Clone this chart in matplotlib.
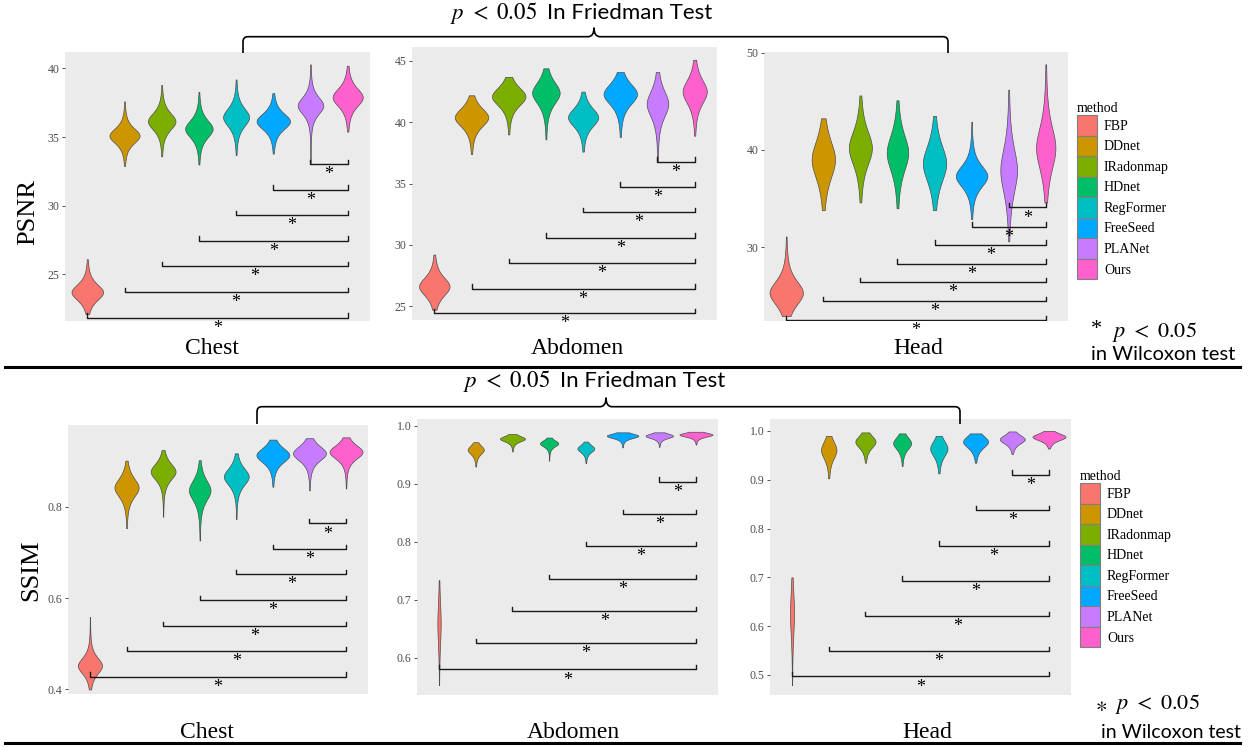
import numpy as np
import matplotlib.pyplot as plt
from matplotlib.path import Path
from matplotlib.patches import PathPatch, Patch

W, H = 1252, 747

METHODS = ["FBP", "DDnet", "IRadonmap", "HDnet", "RegFormer", "FreeSeed", "PLANet", "Ours"]
COLORS = ["#F8766D", "#CD9600", "#7CAE00", "#00BE67", "#00BFC4", "#00A9FF", "#C77CFF", "#FF61CC"]

# violin summaries: tail ends, widest point, spread, max width
PSNR_CHEST_LO = [22.1, 32.9, 33.6, 33.0, 33.7, 33.8, 33.1, 35.4]
PSNR_CHEST_MODE = [23.7, 35.1, 36.15, 35.6, 36.45, 36.15, 37.3, 37.9]
PSNR_CHEST_HI = [26.1, 37.6, 38.8, 38.3, 39.2, 38.2, 40.3, 40.2]
PSNR_CHEST_SD = [0.66, 0.62, 0.7, 0.72, 0.75, 0.66, 0.7, 0.75]
PSNR_CHEST_W = [0.85, 0.81, 0.74, 0.74, 0.70, 0.90, 0.69, 0.81]
PSNR_CHEST_BR = [21.85, 23.7, 25.6, 27.45, 29.3, 31.16, 33.04]

PSNR_ABD_LO = [24.7, 37.4, 39.0, 38.6, 37.6, 38.8, 36.8, 38.9]
PSNR_ABD_MODE = [26.6, 40.4, 42.1, 42.4, 40.4, 42.3, 41.5, 42.5]
PSNR_ABD_HI = [29.2, 42.2, 43.7, 44.4, 42.5, 44.1, 44.1, 45.1]
PSNR_ABD_SD = [0.85, 0.85, 0.85, 1.0, 0.85, 0.95, 1.2, 1.1]
PSNR_ABD_W = [0.82, 0.9, 0.9, 0.74, 0.81, 0.9, 0.58, 0.65]
PSNR_ABD_BR = [24.4, 26.43, 28.51, 30.57, 32.65, 34.73, 36.78]

PSNR_HEAD_LO = [22.9, 33.8, 34.6, 34.0, 33.8, 32.9, 30.6, 34.6]
PSNR_HEAD_MODE = [25.3, 39.0, 40.2, 39.7, 38.6, 37.3, 37.9, 40.2]
PSNR_HEAD_HI = [31.1, 43.25, 45.6, 45.1, 43.5, 42.9, 46.2, 48.8]
PSNR_HEAD_SD = [1.4, 2.2, 2.0, 2.1, 2.1, 1.25, 2.6, 2.5]
PSNR_HEAD_W = [0.9, 0.63, 0.62, 0.58, 0.63, 0.85, 0.45, 0.52]
PSNR_HEAD_BR = [22.47, 24.42, 26.37, 28.29, 30.24, 32.12, 34.08]

SSIM_CHEST_LO = [0.40, 0.753, 0.778, 0.726, 0.773, 0.844, 0.836, 0.840]
SSIM_CHEST_MODE = [0.452, 0.842, 0.877, 0.836, 0.866, 0.913, 0.917, 0.920]
SSIM_CHEST_HI = [0.559, 0.901, 0.924, 0.902, 0.917, 0.947, 0.950, 0.952]
SSIM_CHEST_SD = [0.02, 0.023, 0.02, 0.025, 0.021, 0.018, 0.018, 0.017]
SSIM_CHEST_W = [0.66, 0.66, 0.68, 0.59, 0.68, 0.9, 0.9, 0.9]
SSIM_CHEST_BR = [0.428, 0.484, 0.539, 0.596, 0.652, 0.707, 0.7635]

SSIM_ABD_LO = [0.553, 0.930, 0.956, 0.940, 0.936, 0.963, 0.964, 0.968]
SSIM_ABD_MODE = [0.659, 0.959, 0.978, 0.970, 0.961, 0.983, 0.983, 0.985]
SSIM_ABD_HI = [0.734, 0.972, 0.986, 0.980, 0.973, 0.989, 0.989, 0.990]
SSIM_ABD_SD = [0.04, 0.0085, 0.0053, 0.006, 0.007, 0.0045, 0.0045, 0.004]
SSIM_ABD_W = [0.09, 0.44, 0.68, 0.5, 0.46, 0.86, 0.75, 0.9]
SSIM_ABD_BR = [0.580, 0.625, 0.681, 0.736, 0.793, 0.848, 0.904]

SSIM_HEAD_LO = [0.479, 0.903, 0.935, 0.928, 0.913, 0.935, 0.953, 0.964]
SSIM_HEAD_MODE = [0.626, 0.961, 0.978, 0.975, 0.964, 0.978, 0.983, 0.988]
SSIM_HEAD_HI = [0.700, 0.990, 0.997, 0.995, 0.990, 0.995, 0.999, 1.000]
SSIM_HEAD_SD = [0.05, 0.02, 0.014, 0.014, 0.018, 0.014, 0.01, 0.008]
SSIM_HEAD_W = [0.11, 0.42, 0.55, 0.49, 0.47, 0.68, 0.68, 0.9]
SSIM_HEAD_BR = [0.497, 0.549, 0.621, 0.693, 0.765, 0.838, 0.91]

plt.rcParams["font.family"] = "Liberation Serif"
plt.rcParams["mathtext.fontset"] = "stix"


def px_axes(fig, x0, y0, x1, y1):
    return fig.add_axes([x0 / W, 1 - y1 / H, (x1 - x0) / W, (y1 - y0) / H])


def violin_panel(ax, lo, mode, hi, sd, width, brackets, ylim, ticks, fmt):
    ax.set_facecolor("#EBEBEB")
    for sp in ax.spines.values():
        sp.set_visible(False)
    for i in range(len(METHODS)):
        y = np.linspace(lo[i], hi[i], 300)
        dens = (1 + ((y - mode[i]) / sd[i]) ** 2 / 3) ** -2
        stats = [{"coords": y, "vals": dens, "mean": mode[i], "median": mode[i],
                  "min": lo[i], "max": hi[i]}]
        parts = ax.violin(stats, positions=[i + 1], widths=[width[i]],
                          showmeans=False, showextrema=False, showmedians=False)
        for b in parts["bodies"]:
            b.set_facecolor(COLORS[i])
            b.set_edgecolor("#4D4D4D")
            b.set_linewidth(0.5)
            b.set_alpha(1)
    tip = 0.016 * (ylim[1] - ylim[0])
    n = len(METHODS)
    for i, yb in enumerate(brackets):
        x0 = i + 1
        ax.plot([x0, x0, n, n], [yb + tip, yb, yb, yb + tip], color="#1a1a1a", lw=1.0)
        ax.annotate("*", xy=((x0 + n) / 2, yb), xytext=(0, -1.5), textcoords="offset points",
                    ha="center", va="top", fontsize=13)
    ax.set_xlim(0.4, 8.6)
    ax.set_ylim(*ylim)
    ax.set_xticks([])
    ax.set_yticks(ticks)
    ax.set_yticklabels([fmt.format(t) for t in ticks])
    ax.tick_params(axis="y", length=2.5, width=0.6, color="#333333", labelsize=8.5,
                   labelcolor="#4D4D4D", pad=1.5)


def brace(ax, xl, xr, xc, y_line, y_end, r=5, cusp=9, half=6):
    verts = [(xl, y_end), (xl, y_line + r), (xl, y_line), (xl + r, y_line),
             (xc - half, y_line), (xc, y_line), (xc, y_line - cusp),
             (xc, y_line), (xc + half, y_line),
             (xr - r, y_line), (xr, y_line), (xr, y_line + r), (xr, y_end)]
    codes = [Path.MOVETO, Path.LINETO, Path.CURVE3, Path.CURVE3,
             Path.LINETO, Path.CURVE3, Path.CURVE3,
             Path.CURVE3, Path.CURVE3,
             Path.LINETO, Path.CURVE3, Path.CURVE3, Path.LINETO]
    ax.add_patch(PathPatch(Path(verts, codes), fill=False, lw=1.2, edgecolor="black"))


fig = plt.figure(figsize=(W / 100, H / 100), dpi=100)

panels = [
    ((65, 52, 370, 321), PSNR_CHEST_LO, PSNR_CHEST_MODE, PSNR_CHEST_HI, PSNR_CHEST_SD, PSNR_CHEST_W,
     PSNR_CHEST_BR, (21.6, 41.2), [25, 30, 35, 40], "{:.0f}"),
    ((412, 47, 717, 320), PSNR_ABD_LO, PSNR_ABD_MODE, PSNR_ABD_HI, PSNR_ABD_SD, PSNR_ABD_W,
     PSNR_ABD_BR, (23.86, 46.14), [25, 30, 35, 40, 45], "{:.0f}"),
    ((764, 52, 1068, 321), PSNR_HEAD_LO, PSNR_HEAD_MODE, PSNR_HEAD_HI, PSNR_HEAD_SD, PSNR_HEAD_W,
     PSNR_HEAD_BR, (22.4, 50.07), [30, 40, 50], "{:.0f}"),
    ((68, 425, 368, 694), SSIM_CHEST_LO, SSIM_CHEST_MODE, SSIM_CHEST_HI, SSIM_CHEST_SD, SSIM_CHEST_W,
     SSIM_CHEST_BR, (0.39, 0.979), [0.4, 0.6, 0.8], "{:.1f}"),
    ((417, 419, 718, 695), SSIM_ABD_LO, SSIM_ABD_MODE, SSIM_ABD_HI, SSIM_ABD_SD, SSIM_ABD_W,
     SSIM_ABD_BR, (0.536, 1.012), [0.6, 0.7, 0.8, 0.9, 1.0], "{:.1f}"),
    ((770, 419, 1071, 695), SSIM_HEAD_LO, SSIM_HEAD_MODE, SSIM_HEAD_HI, SSIM_HEAD_SD, SSIM_HEAD_W,
     SSIM_HEAD_BR, (0.459, 1.0245), [0.5, 0.6, 0.7, 0.8, 0.9, 1.0], "{:.1f}"),
]

for box, lo, mode, hi, sd, w, br, ylim, ticks, fmt in panels:
    ax = px_axes(fig, *box)
    violin_panel(ax, lo, mode, hi, sd, w, br, ylim, ticks, fmt)

# overlay in pixel coordinates for titles, braces and notes
ov = fig.add_axes([0, 0, 1, 1])
ov.set_xlim(0, W)
ov.set_ylim(H, 0)
ov.axis("off")

ov.text(28, 212, "PSNR", rotation=90, ha="center", va="center", fontsize=19)
ov.text(31, 570, "SSIM", rotation=90, ha="center", va="center", fontsize=19)

for x, y, s in [(212, 349, "Chest"), (577, 349, "Abdomen"), (918, 349, "Head"),
                (207, 732, "Chest"), (573, 732, "Abdomen"), (927, 733, "Head")]:
    ov.text(x, y, s, ha="center", va="center", fontsize=17)

ov.plot([5, 1240], [367, 367], color="black", lw=2.2)
ov.plot([5, 1240], [743, 743], color="black", lw=2.2)

brace(ov, 243, 948, 594, 36.7, 53)
brace(ov, 257, 960, 606, 406.7, 424)

for y, xr in [(13, 537), (381, 550)]:
    ov.text(xr, y, r"$p\ <\ 0.05$", ha="right", va="center", fontsize=16.5)
    ov.text(xr + 10, y, "In Friedman Test", ha="left", va="center", fontsize=16, family="Lato")

ov.text(1096, 330, "*", ha="center", va="center", fontsize=16)
ov.text(1112, 332, r"$p\ <\ 0.05$", ha="left", va="center", fontsize=16)
ov.text(1091, 355, "in Wilcoxon test", ha="left", va="center", fontsize=14.5, family="Lato")
ov.text(1101, 706, r"$\ast$", ha="center", va="center", fontsize=16)
ov.text(1115, 704, r"$p\ <\ 0.05$", ha="left", va="center", fontsize=16)
ov.text(1101, 732, "in Wilcoxon test", ha="left", va="center", fontsize=14, family="Lato")

handles = [Patch(facecolor=c, edgecolor="#7F7F7F", linewidth=0.8, label=m)
           for m, c in zip(METHODS, COLORS)]
for x, y in [(1077, 102), (1080, 470)]:
    fig.legend(handles=handles, title="method", loc="upper left",
               bbox_to_anchor=(x / W, 1 - y / H), frameon=False, fontsize=10,
               title_fontsize=10, handlelength=1.44, handleheight=1.9, labelspacing=0,
               handletextpad=0.5, borderpad=0, borderaxespad=0, alignment="left")

fig.savefig("out.png", dpi=100)
